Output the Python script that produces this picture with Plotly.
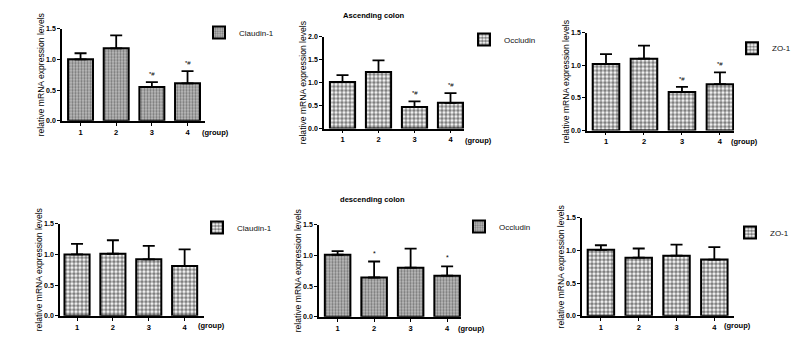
import plotly.graph_objects as go

# ---------------- data ----------------
groups = [1, 2, 3, 4]
group_labels = ["1", "2", "3", "4"]

asc_claudin = [1.00, 1.18, 0.55, 0.61]
asc_claudin_err = [0.10, 0.21, 0.08, 0.20]
asc_occludin = [1.01, 1.23, 0.47, 0.56]
asc_occludin_err = [0.15, 0.25, 0.12, 0.21]
asc_zo1 = [1.02, 1.10, 0.59, 0.71]
asc_zo1_err = [0.15, 0.20, 0.08, 0.18]

desc_claudin = [1.00, 1.01, 0.92, 0.81]
desc_claudin_err = [0.17, 0.22, 0.22, 0.27]
desc_occludin = [1.01, 0.64, 0.80, 0.67]
desc_occludin_err = [0.06, 0.26, 0.31, 0.15]
desc_zo1 = [1.01, 0.89, 0.92, 0.86]
desc_zo1_err = [0.07, 0.14, 0.17, 0.19]

asc_marks = ["", "", "*#", "*#"]
desc_occludin_marks = ["", "*", "", "*"]
no_marks = ["", "", "", ""]

y_ticks_15 = [0, 0.5, 1.0, 1.5]
y_ticks_20 = [0, 0.5, 1.0, 1.5, 2.0]

# ---------------- layout helpers ----------------
# the page body has an 8px margin, so the figure is 8px smaller each way
OFF = 8
W, H = 804 - OFF, 358 - OFF
FONT = "Arial, Liberation Sans, sans-serif"


def px_x(p):
    return (p - OFF) / W


def px_y(p):
    return 1 - (p - OFF) / H


checker = dict(shape=".", fgcolor="#000000", bgcolor="#ffffff", size=4, solidity=0.66)
graydot = dict(shape=".", fgcolor="#333333", bgcolor="#bdbdbd", size=3, solidity=0.45)

panels = [
    dict(name="Claudin-1", y=asc_claudin, e=asc_claudin_err, m=asc_marks, pat=graydot, ymax=1.5, ticks=y_ticks_15,
         xd=(62, 205), yd=(25, 119), xr=(0.48, 4.49), leg=(199, 29), grp=(200, 131)),
    dict(name="Occludin", y=asc_occludin, e=asc_occludin_err, m=asc_marks, pat=checker, ymax=2.0, ticks=y_ticks_20,
         xd=(324, 464), yd=(33, 127), xr=(0.486, 4.375), leg=(464, 36), grp=(463, 139)),
    dict(name="ZO-1", y=asc_zo1, e=asc_zo1_err, m=asc_marks, pat=checker, ymax=1.5, ticks=y_ticks_15,
         xd=(587, 734), yd=(29, 129), xr=(0.5, 4.37), leg=(732, 45), grp=(729, 140)),
    dict(name="Claudin-1", y=desc_claudin, e=desc_claudin_err, m=no_marks, pat=checker, ymax=1.5, ticks=y_ticks_15,
         xd=(60, 204), yd=(224, 318), xr=(0.525, 4.54), leg=(197, 228), grp=(196, 328)),
    dict(name="Occludin", y=desc_occludin, e=desc_occludin_err, m=desc_occludin_marks, pat=graydot, ymax=1.5,
         ticks=y_ticks_15, xd=(319, 461), yd=(225, 319), xr=(0.49, 4.38), leg=(459, 227), grp=(456, 331)),
    dict(name="ZO-1", y=desc_zo1, e=desc_zo1_err, m=no_marks, pat=checker, ymax=1.5, ticks=y_ticks_15,
         xd=(582, 734), yd=(218, 318), xr=(0.5, 4.52), leg=(730, 233), grp=(722, 328)),
]

fig = go.Figure()
annotations = []
layout = dict(
    width=W, height=H,
    margin=dict(l=0, r=0, t=0, b=0),
    paper_bgcolor="white", plot_bgcolor="white",
    font=dict(family=FONT, color="black"),
)

for i, p in enumerate(panels, start=1):
    sfx = "" if i == 1 else str(i)
    legname = "legend" + sfx
    fig.add_trace(go.Bar(
        x=groups, y=p["y"], width=0.7,
        name=p["name"],
        xaxis="x" + sfx, yaxis="y" + sfx,
        legend=legname, showlegend=True,
        marker=dict(color="#808080", pattern=p["pat"], line=dict(color="black", width=2)),
        error_y=dict(type="data", array=p["e"], arrayminus=[0, 0, 0, 0], symmetric=False,
                     color="black", thickness=1.8, width=6),
        hoverinfo="skip",
    ))
    layout["xaxis" + sfx] = dict(
        domain=[px_x(p["xd"][0]), px_x(p["xd"][1])],
        anchor="y" + sfx, range=list(p["xr"]),
        tickvals=groups, ticktext=group_labels,
        ticks="outside", ticklen=3, tickwidth=1.2, tickcolor="black",
        showline=True, linecolor="black", linewidth=1.5,
        showgrid=False, zeroline=False, fixedrange=True,
        tickfont=dict(size=7.5, family=FONT, weight="bold", color="black"),
    )
    layout["yaxis" + sfx] = dict(
        domain=[px_y(p["yd"][1]), px_y(p["yd"][0])],
        anchor="x" + sfx, range=[0, p["ymax"]],
        tickvals=p["ticks"], tickformat=".1f",
        ticks="outside", ticklen=3, tickwidth=1.2, tickcolor="black",
        showline=True, linecolor="black", linewidth=1.5,
        showgrid=False, zeroline=False, fixedrange=True,
        tickfont=dict(size=7, family=FONT, weight="bold", color="black"),
        title=dict(text="relative mRNA expression levels", standoff=0,
                   font=dict(size=8.6, family=FONT, color="black")),
    )
    layout[legname] = dict(
        x=px_x(p["leg"][0]), y=px_y(p["leg"][1]),
        xref="paper", yref="paper", xanchor="left", yanchor="middle",
        bgcolor="rgba(0,0,0,0)", borderwidth=0, itemwidth=30,
        font=dict(size=8, family=FONT, color="#111111"),
    )
    for g, v, e, m in zip(groups, p["y"], p["e"], p["m"]):
        if m:
            annotations.append(dict(
                x=g, y=v + e, xref="x" + sfx, yref="y" + sfx,
                text=m, showarrow=False, yanchor="bottom", yshift=3,
                font=dict(size=7 if m == "*" else 6, family=FONT, color="black"),
            ))
    annotations.append(dict(
        x=px_x(p["grp"][0]), y=px_y(p["grp"][1]), xref="paper", yref="paper",
        text="(group)", showarrow=False, xanchor="left", yanchor="middle",
        font=dict(size=7.5, family=FONT, weight="bold", color="black"),
    ))

annotations.append(dict(
    x=px_x(374), y=px_y(12), xref="paper", yref="paper", text="Ascending colon",
    showarrow=False, xanchor="center", yanchor="middle",
    font=dict(size=7.6, family=FONT, weight="bold", color="black"),
))
annotations.append(dict(
    x=px_x(372), y=px_y(199), xref="paper", yref="paper", text="descending colon",
    showarrow=False, xanchor="center", yanchor="middle",
    font=dict(size=7.6, family=FONT, weight="bold", color="black"),
))
layout["annotations"] = annotations

fig.update_layout(**layout)
fig.write_html("out.html")
